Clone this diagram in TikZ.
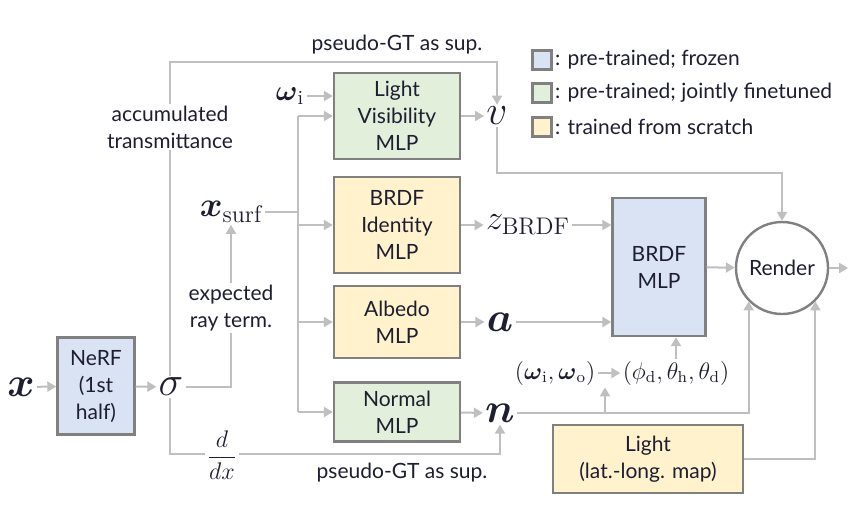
\documentclass[tikz,border=0pt]{standalone}
\usepackage{amsmath}
\usepackage{fontspec}
\setsansfont{Lato}
\usetikzlibrary{positioning,arrows.meta}
\definecolor{frozenblue}{HTML}{DAE3F3}
\definecolor{tunegreen}{HTML}{E2EFDA}
\definecolor{scratchyellow}{HTML}{FFF2CC}
\definecolor{edgegray}{HTML}{808080}
\definecolor{wiregray}{HTML}{BFBFBF}
\definecolor{inkdark}{HTML}{1E1E32}

\begin{document}
\begin{tikzpicture}[x=0.5pt, y=-0.5pt,
  txt/.style={font=\sffamily\fontsize{10.5}{13.5}\selectfont, text=inkdark, align=center},
  mlp/.style={txt, draw=edgegray, line width=1.2pt, inner sep=1pt},
  var/.style={inner sep=1pt, text=inkdark, font=\huge},
  key/.style={draw=edgegray, line width=1.2pt, minimum size=9.5pt, inner sep=0pt},
  wire/.style={draw=wiregray, line width=1pt},
  arr/.style={wire, -{Triangle[length=4.5pt,width=5pt]}},
]
  \useasboundingbox (0,0) rectangle (854,516);
  \fill[white] (0,0) rectangle (854,516);

  % Networks
  \node[mlp, fill=frozenblue, minimum width=38.5pt, minimum height=48.5pt] (nerf) at (96,386) {NeRF\\(1st\\half)};
  \node[mlp, fill=tunegreen, minimum width=63pt, minimum height=43pt] (lvis) at (397,116) {Light\\Visibility\\MLP};
  \node[mlp, fill=scratchyellow, minimum width=63pt, minimum height=48pt] (brdfid) at (397,225) {BRDF\\Identity\\MLP};
  \node[mlp, fill=scratchyellow, minimum width=63pt, minimum height=36pt] (albedo) at (397,322) {Albedo\\MLP};
  \node[mlp, fill=tunegreen, minimum width=63pt, minimum height=29.5pt] (normal) at (397,412) {Normal\\MLP};
  \node[mlp, fill=frozenblue, minimum width=46.5pt, minimum height=69pt] (brdfmlp) at (659,267) {BRDF\\MLP};
  \node[mlp, circle, minimum size=46pt] (render) at (782,268) {Render};
  \node[mlp, fill=scratchyellow, minimum width=95pt, minimum height=34pt] (light) at (648,459) {Light\\(lat.-long. map)};

  % Quantities
  \node[var] (xin) at (21,387) {$\boldsymbol{x}$};
  \node[var] (sigma) at (171,387) {$\sigma$};
  \node[var, font=\Large] (wi) at (290,96) {$\boldsymbol{\omega}_\mathrm{i}$};
  \node[var] (vis) at (497,116) {$v$};
  \node[var, font=\LARGE] (xsurf) at (231,212) {$\boldsymbol{x}_\mathrm{surf}$};
  \node[var, font=\LARGE] (zbrdf) at (528,225) {$z_\mathrm{BRDF}$};
  \node[var] (alb) at (500,322) {$\boldsymbol{a}$};
  \node[var] (nrm) at (500,413) {$\boldsymbol{n}$};
  \node[var, font=\large] (wiwo) at (555,373) {$(\boldsymbol{\omega}_\mathrm{i},\boldsymbol{\omega}_\mathrm{o})$};
  \node[var, font=\large] (angles) at (676,373) {$(\phi_\mathrm{d},\theta_\mathrm{h},\theta_\mathrm{d})$};

  \coordinate (tl) at (170,62);
  \coordinate (bl) at (170,454);
  \coordinate (vr) at (497,173);
  \coordinate (bus) at (298,212);
  \coordinate (nw) at (605,413);
  \coordinate (out) at (848,268);

  % NeRF part
  \draw[arr] (xin) -- (nerf);
  \draw[arr] (nerf) -- (sigma);
  \draw[arr] (sigma.north -| tl) -- (tl) -| (vis.north);
  \draw[arr] (sigma.south -| bl) -- (bl) -| (nrm.south);
  \draw[arr] (sigma.east) -| (xsurf.south);

  % Inputs to the MLPs
  \draw[arr] (wi) -- (wi -| lvis.west);
  \draw[wire] (xsurf.east) -- (bus);
  \draw[wire] (bus |- lvis) -- (bus |- normal);
  \foreach \b in {lvis,brdfid,albedo,normal}
    \draw[arr] (bus |- \b) -- (\b.west);

  % Outputs
  \draw[arr] (lvis) -- (vis);
  \draw[arr] (vis.south) -- (vr) -| (render.north);
  \draw[arr] (brdfid) -- (zbrdf);
  \draw[arr] (zbrdf) -- (zbrdf -| brdfmlp.west);
  \draw[arr] (albedo) -- (alb);
  \draw[arr] (alb) -- (alb -| brdfmlp.west);
  \draw[arr] (normal) -- (nrm);
  \draw[arr] (nrm.east) -| (render.south west);
  \draw[arr] (nw) -- (nw |- wiwo.south);
  \draw[arr] (wiwo) -- (angles);
  \draw[arr] (angles) -- (angles |- brdfmlp.south);
  \draw[arr] (brdfmlp) -- (render);
  \draw[arr] (light) -| (render.south east);
  \draw[arr] (render) -- (out);

  % Labels on the wires
  \node[txt] (supv) at (397,45) {pseudo-GT as sup.};
  \node[txt, fill=white, inner sep=1pt] (accum) at (170,127) {accumulated\\transmittance};
  \node[txt, fill=white, inner sep=1pt] (expray) at (231,308) {expected\\ray term.};
  \node[var, font=\large, fill=white] (ddx) at (222,455) {$\dfrac{d}{dx}$};
  \node[txt] (supn) at (402,473) {pseudo-GT as sup.};

  % Legend
  \node[key, fill=frozenblue] (k1) at (542,60) {};
  \node[key, fill=tunegreen] (k2) at (542,93) {};
  \node[key, fill=scratchyellow] (k3) at (542,127) {};
  \node[txt, right=0pt of k1, inner sep=1pt] {: pre-trained; frozen};
  \node[txt, right=0pt of k2, inner sep=1pt] {: pre-trained; jointly finetuned};
  \node[txt, right=0pt of k3, inner sep=1pt] {: trained from scratch};
\end{tikzpicture}
\end{document}
